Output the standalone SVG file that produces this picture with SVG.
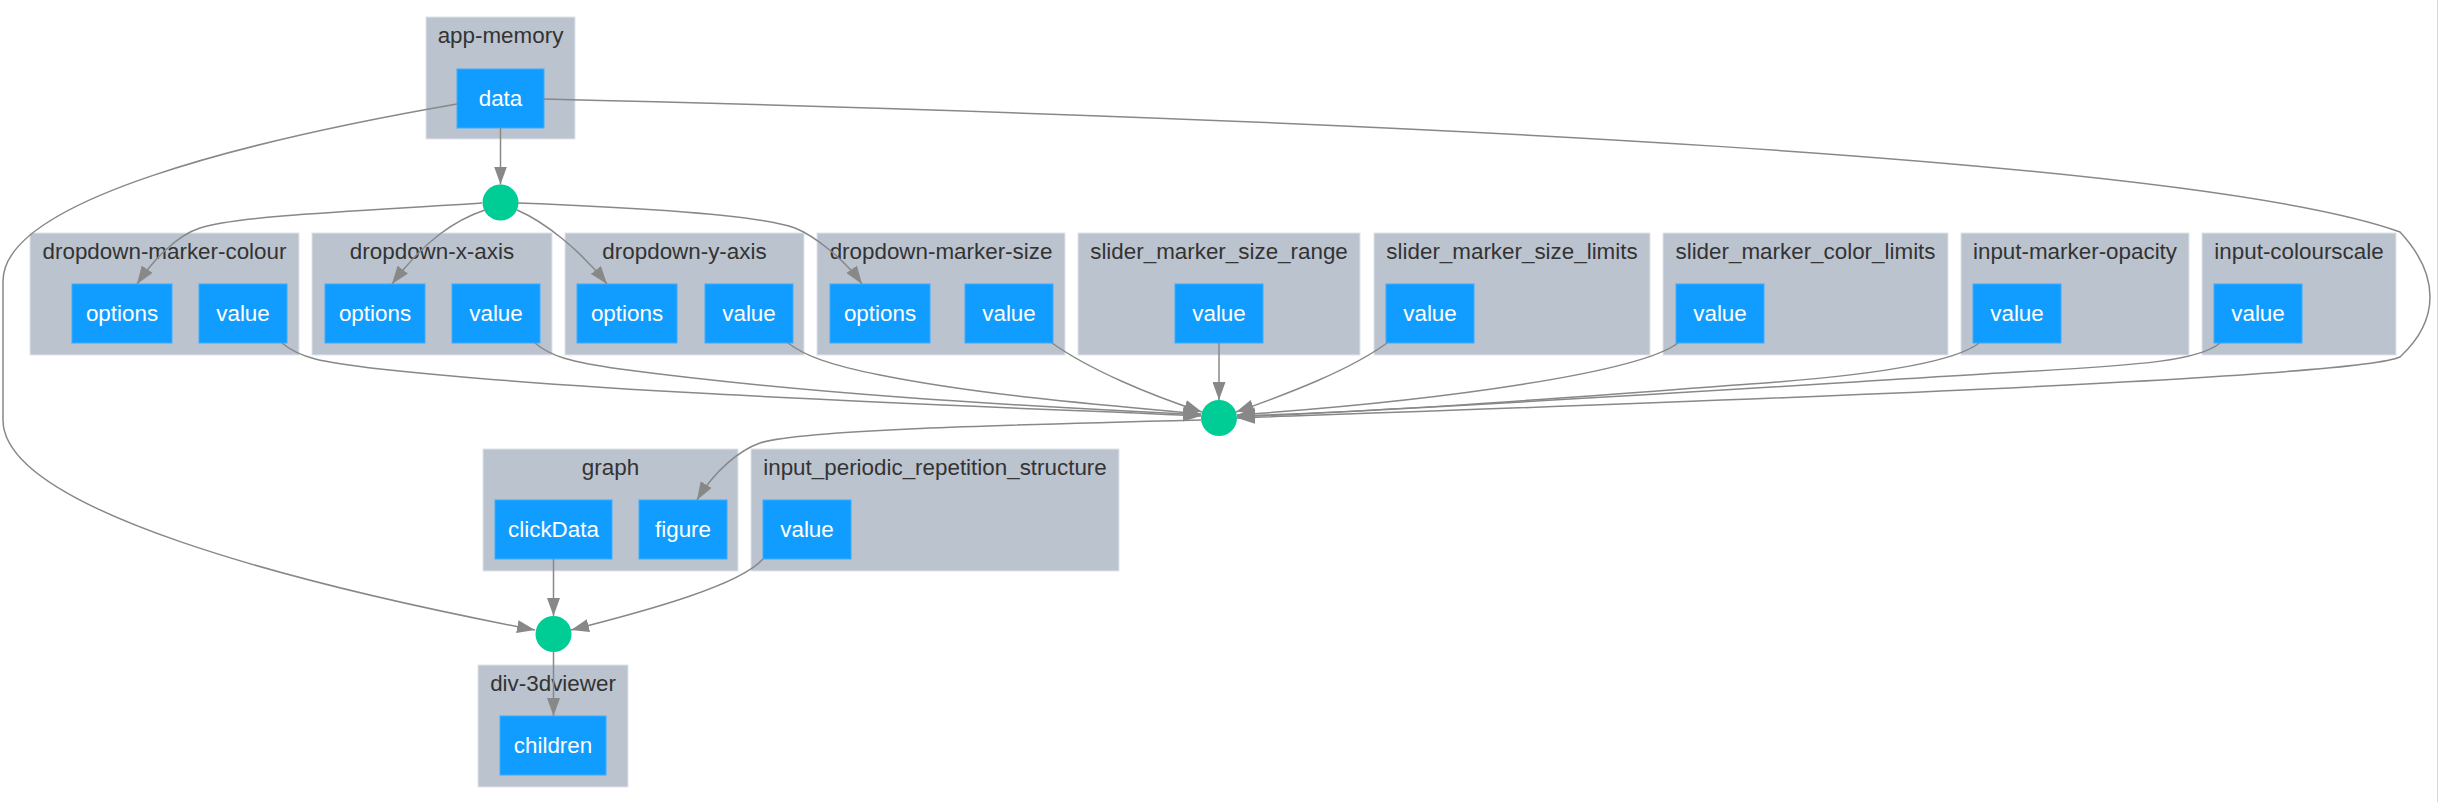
<svg xmlns="http://www.w3.org/2000/svg" width="2440" height="802" viewBox="0 0 2440 802">
<style>
.cl{fill:#bbc3cf;stroke:#dfe4ea;stroke-width:1}
.cll{font-family:"Liberation Sans",Arial,sans-serif;font-size:22.4px;fill:#333333;text-anchor:middle}
.nd{fill:#119dff;stroke:#3aadff;stroke-width:1}
.ndl{font-family:"Liberation Sans",Arial,sans-serif;font-size:22.4px;fill:#ffffff;text-anchor:middle}
.cb{fill:#00cc96}
.e{fill:none;stroke:#888888;stroke-width:1.5;marker-end:url(#ah)}
</style>
<defs>
<marker id="ah" markerUnits="userSpaceOnUse" markerWidth="18" markerHeight="13" refX="18" refY="6.5" orient="auto">
<path d="M0,0 L18,6.5 L0,13 z" fill="#888888"/>
</marker>
</defs>
<rect x="0" y="0" width="2440" height="802" fill="#ffffff"/>
<line x1="2437.5" y1="0" x2="2437.5" y2="802" stroke="#d8d8d8" stroke-width="1"/>

<g id="clusters">
<g id="cl-app-memory"><rect class="cl" x="426" y="17" width="149" height="122"/><text class="cll" x="500.5" y="43">app-memory</text></g>
<g id="cl-dropdown-marker-colour"><rect class="cl" x="30" y="233" width="269" height="122"/><text class="cll" x="164.5" y="259">dropdown-marker-colour</text></g>
<g id="cl-dropdown-x-axis"><rect class="cl" x="312" y="233" width="240" height="122"/><text class="cll" x="432" y="259">dropdown-x-axis</text></g>
<g id="cl-dropdown-y-axis"><rect class="cl" x="565" y="233" width="239" height="122"/><text class="cll" x="684.5" y="259">dropdown-y-axis</text></g>
<g id="cl-dropdown-marker-size"><rect class="cl" x="817" y="233" width="248" height="122"/><text class="cll" x="941" y="259">dropdown-marker-size</text></g>
<g id="cl-slider_marker_size_range"><rect class="cl" x="1078" y="233" width="282" height="122"/><text class="cll" x="1219" y="259">slider_marker_size_range</text></g>
<g id="cl-slider_marker_size_limits"><rect class="cl" x="1374" y="233" width="276" height="122"/><text class="cll" x="1512" y="259">slider_marker_size_limits</text></g>
<g id="cl-slider_marker_color_limits"><rect class="cl" x="1663" y="233" width="285" height="122"/><text class="cll" x="1805.5" y="259">slider_marker_color_limits</text></g>
<g id="cl-input-marker-opacity"><rect class="cl" x="1961" y="233" width="228" height="122"/><text class="cll" x="2075" y="259">input-marker-opacity</text></g>
<g id="cl-input-colourscale"><rect class="cl" x="2202" y="233" width="194" height="122"/><text class="cll" x="2299" y="259">input-colourscale</text></g>
<g id="cl-graph"><rect class="cl" x="483" y="449" width="255" height="122"/><text class="cll" x="610.5" y="475">graph</text></g>
<g id="cl-input_periodic_repetition_structure"><rect class="cl" x="751" y="449" width="368" height="122"/><text class="cll" x="935" y="475">input_periodic_repetition_structure</text></g>
<g id="cl-div-3dviewer"><rect class="cl" x="478" y="665" width="150" height="122"/><text class="cll" x="553" y="691">div-3dviewer</text></g>
</g>

<g id="nodes">
<g id="n-app-memory-data"><rect class="nd" x="457" y="69" width="87" height="59"/><text class="ndl" x="500.5" y="106">data</text></g>
<g id="n-colour-options"><rect class="nd" x="72" y="284" width="100" height="59"/><text class="ndl" x="122" y="321">options</text></g>
<g id="n-colour-value"><rect class="nd" x="199" y="284" width="88" height="59"/><text class="ndl" x="243" y="321">value</text></g>
<g id="n-x-options"><rect class="nd" x="325" y="284" width="100" height="59"/><text class="ndl" x="375" y="321">options</text></g>
<g id="n-x-value"><rect class="nd" x="452" y="284" width="88" height="59"/><text class="ndl" x="496" y="321">value</text></g>
<g id="n-y-options"><rect class="nd" x="577" y="284" width="100" height="59"/><text class="ndl" x="627" y="321">options</text></g>
<g id="n-y-value"><rect class="nd" x="705" y="284" width="88" height="59"/><text class="ndl" x="749" y="321">value</text></g>
<g id="n-size-options"><rect class="nd" x="830" y="284" width="100" height="59"/><text class="ndl" x="880" y="321">options</text></g>
<g id="n-size-value"><rect class="nd" x="965" y="284" width="88" height="59"/><text class="ndl" x="1009" y="321">value</text></g>
<g id="n-range-value"><rect class="nd" x="1175" y="284" width="88" height="59"/><text class="ndl" x="1219" y="321">value</text></g>
<g id="n-limits-value"><rect class="nd" x="1386" y="284" width="88" height="59"/><text class="ndl" x="1430" y="321">value</text></g>
<g id="n-colorlimits-value"><rect class="nd" x="1676" y="284" width="88" height="59"/><text class="ndl" x="1720" y="321">value</text></g>
<g id="n-opacity-value"><rect class="nd" x="1973" y="284" width="88" height="59"/><text class="ndl" x="2017" y="321">value</text></g>
<g id="n-colourscale-value"><rect class="nd" x="2214" y="284" width="88" height="59"/><text class="ndl" x="2258" y="321">value</text></g>
<g id="n-graph-clickData"><rect class="nd" x="495" y="500" width="117" height="59"/><text class="ndl" x="553.5" y="537">clickData</text></g>
<g id="n-graph-figure"><rect class="nd" x="639" y="500" width="88" height="59"/><text class="ndl" x="683" y="537">figure</text></g>
<g id="n-periodic-value"><rect class="nd" x="763" y="500" width="88" height="59"/><text class="ndl" x="807" y="537">value</text></g>
<g id="n-div-3dviewer-children"><rect class="nd" x="500" y="716" width="106" height="59"/><text class="ndl" x="553" y="753">children</text></g>
<g id="cb1"><circle class="cb" cx="500.5" cy="202.5" r="18"/></g>
<g id="cb2"><circle class="cb" cx="1219" cy="418" r="18"/></g>
<g id="cb3"><circle class="cb" cx="553.5" cy="634" r="18"/></g>
</g>

<g id="connectors">
<path class="e" d="M500.5,128 L500.5,184.5"/>
<path class="e" d="M482,203 C380,210 240,215 200,228 C175,236 152,262 137,284"/>
<path class="e" d="M485,210 C455,220 425,240 392,284"/>
<path class="e" d="M517,210 C545,222 580,250 607,284"/>
<path class="e" d="M518,203 C650,208 760,215 795,228 C815,236 845,260 862,284"/>
<path class="e" d="M282,343 C300,358 320,362 380,369 C600,393 950,405 1201,416"/>
<path class="e" d="M535,343 C550,356 570,362 620,369 C800,393 1000,405 1201,415"/>
<path class="e" d="M788,343 C805,356 830,365 880,375 C980,395 1100,405 1201,414"/>
<path class="e" d="M1052,343 C1090,370 1150,395 1202,412"/>
<path class="e" d="M1219,343 L1219,400"/>
<path class="e" d="M1387,343 C1350,370 1290,393 1236,412"/>
<path class="e" d="M1678,343 C1640,372 1450,400 1237,415"/>
<path class="e" d="M1979,343 C1955,362 1880,375 1750,384 C1600,395 1420,410 1237,416"/>
<path class="e" d="M2220,343 C2200,360 2150,365 2000,373 C1800,385 1500,405 1237,417"/>
<path class="e" d="M544,99 C1400,120 2200,160 2400,232 C2440,275 2440,320 2400,357 C2350,380 1600,405 1237,418"/>
<path class="e" d="M457,104 C250,140 3,200 3,281 L3,420 C3,510 300,585 535,630"/>
<path class="e" d="M1201,420 C1000,425 800,430 760,443 C740,450 715,470 697,500"/>
<path class="e" d="M553.5,559 L553.5,616"/>
<path class="e" d="M763,559 C740,585 650,610 571,630"/>
<path class="e" d="M553.5,652 L553.5,716"/>
</g>
</svg>
